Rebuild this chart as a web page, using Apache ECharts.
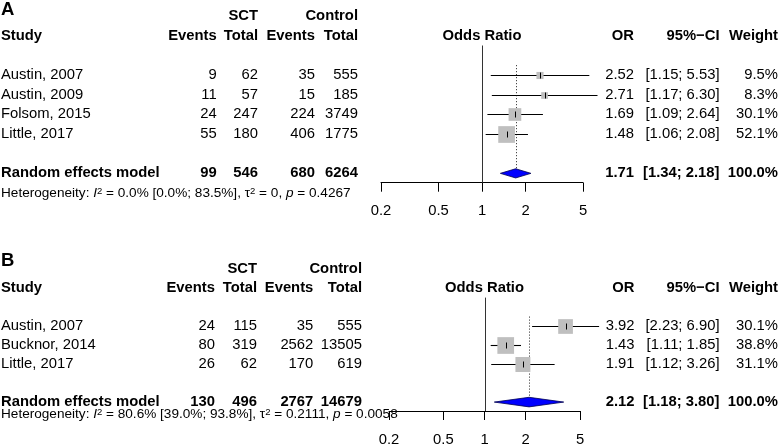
<!DOCTYPE html>
<html><head><meta charset="utf-8">
<script src="https://cdn.jsdelivr.net/npm/echarts@6/dist/echarts.min.js"></script>
<style>html,body{margin:0;padding:0;background:#fff}#c{width:778px;height:447px}</style>
</head><body><div id="c"></div>
<script>
// ---------- Panel A data ----------
const studiesA   = ['Austin, 2007', 'Austin, 2009', 'Folsom, 2015', 'Little, 2017'];
const sctEventsA = [9, 11, 24, 55];
const sctTotalA  = [62, 57, 247, 180];
const ctlEventsA = [35, 15, 224, 406];
const ctlTotalA  = [555, 185, 3749, 1775];
const orA        = [2.52, 2.71, 1.69, 1.48];
const ciLowA     = [1.15, 1.17, 1.09, 1.06];
const ciHighA    = [5.53, 6.30, 2.64, 2.08];
const weightA    = [9.5, 8.3, 30.1, 52.1];
const reTotalsA  = [99, 546, 680, 6264];
const reOrA      = [1.71, 1.34, 2.18];
const hetA       = ['0.0%', '[0.0%; 83.5%]', '0', '0.4267'];

// ---------- Panel B data ----------
const studiesB   = ['Austin, 2007', 'Bucknor, 2014', 'Little, 2017'];
const sctEventsB = [24, 80, 26];
const sctTotalB  = [115, 319, 62];
const ctlEventsB = [35, 2562, 170];
const ctlTotalB  = [555, 13505, 619];
const orB        = [3.92, 1.43, 1.91];
const ciLowB     = [2.23, 1.11, 1.12];
const ciHighB    = [6.90, 1.85, 3.26];
const weightB    = [30.1, 38.8, 31.1];
const reTotalsB  = [130, 496, 2767, 14679];
const reOrB      = [2.12, 1.18, 3.80];
const hetB       = ['80.6%', '[39.0%; 93.8%]', '0.2111', '0.0058'];

const axisTicks  = [0.2, 0.5, 1, 2, 5];

// ---------- layout ----------
const FONT = '"Liberation Sans", Arial, Helvetica, sans-serif';
const FZ = 14.8, HFZ = 13.6;
const LA = {grid:{left:381, top:16, width:202, height:166.7}, ymax:6.475, study:1, sctEv:216.7, sctTot:258, ctlEv:315, ctlTot:358, or:634, ci:719.5, w:778, hetRow:7, dh:4.6};
const LB = {grid:{left:389, top:269.1, width:191, height:144.9}, ymax:5.469, study:1, sctEv:215, sctTot:257, ctlEv:313.3, ctlTot:362, or:634.5, ci:719.5, w:778, hetRow:5.64, dh:4.8};
const MAXSIDE = 16.7;

const f2 = v => v.toFixed(2);
const ciTxt = (l, h) => '[' + f2(l) + '; ' + f2(h) + ']';
const snap = v => Math.round(v) + 0.5;

function buildPanel(gi, D, L) {
  const n = D.studies.length;
  const T = (x, text, align, bold) => ({x, text: String(text), align, bold});
  const rows = [];
  rows.push({r:-2, cells:[T(L.sctTot,'SCT','right',true), T(L.ctlTot,'Control','right',true)]});
  rows.push({r:-1, cells:[T(L.study,'Study','left',true), T(L.sctEv,'Events','right',true), T(L.sctTot,'Total','right',true),
    T(L.ctlEv,'Events','right',true), T(L.ctlTot,'Total','right',true), T('one','Odds Ratio','center',true),
    T(L.or,'OR','right',true), T(L.ci,'95%\u2212CI','right',true), T(L.w,'Weight','right',true)]});
  for (let i = 0; i < n; i++) {
    rows.push({r:i+1, cells:[T(L.study,D.studies[i],'left'), T(L.sctEv,D.sctEv[i],'right'), T(L.sctTot,D.sctTot[i],'right'),
      T(L.ctlEv,D.ctlEv[i],'right'), T(L.ctlTot,D.ctlTot[i],'right'), T(L.or,f2(D.or[i]),'right'),
      T(L.ci,ciTxt(D.lo[i],D.hi[i]),'right'), T(L.w,D.w[i].toFixed(1)+'%','right')]});
  }
  rows.push({r:n+2, cells:[T(L.study,'Random effects model','left',true), T(L.sctEv,D.re[0],'right',true), T(L.sctTot,D.re[1],'right',true),
    T(L.ctlEv,D.re[2],'right',true), T(L.ctlTot,D.re[3],'right',true), T(L.or,f2(D.reOr[0]),'right',true),
    T(L.ci,ciTxt(D.reOr[1],D.reOr[2]),'right',true), T(L.w,'100.0%','right',true)]});
  rows.push({r:L.hetRow, cells:[{x:L.study, align:'left', het:true,
    text:'Heterogeneity: {i|I}{s|2} = ' + D.het[0] + ' ' + D.het[1] + ', \u03c4{s|2} = ' + D.het[2] + ', {i|p} = ' + D.het[3]}]});

  const wmax = Math.max.apply(null, D.w);
  const series = [];
  // reference lines
  series.push({type:'custom', xAxisIndex:gi, yAxisIndex:gi, silent:true, z:1,
    data:[[1, -0.5, 0], [D.reOr[0], 0.5, 1]], encode:{x:0, y:1},
    renderItem:(p, api) => {
      const kind = api.value(2);
      const top = api.coord([api.value(0), api.value(1)]);
      let by;
      if (kind === 0) by = api.coord([1, L.ymax])[1];
      else by = api.coord([1, n+2])[1] - L.dh;
      const x = snap(top[0]);
      return {type:'line', shape:{x1:x, y1:top[1], x2:x, y2:by},
        style:{stroke: kind === 0 ? '#333' : '#222', lineWidth:1, lineDash: kind === 0 ? null : [1,2]}};
    }});
  // study CIs and squares
  series.push({type:'custom', xAxisIndex:gi, yAxisIndex:gi, silent:true, z:3,
    data: D.or.map((v,i) => [v, D.lo[i], D.hi[i], i+1, D.w[i]]), encode:{x:0, y:3},
    renderItem:(p, api) => {
      const r = api.value(3);
      const c = api.coord([api.value(0), r]);
      const lo = api.coord([api.value(1), r]);
      const hi = api.coord([api.value(2), r]);
      const s = MAXSIDE * Math.sqrt(api.value(4) / wmax);
      const y = snap(c[1]);
      return {type:'group', children:[
        {type:'line', shape:{x1:lo[0], y1:y, x2:hi[0], y2:y}, style:{stroke:'#000', lineWidth:1.1}},
        {type:'rect', shape:{x:c[0]-s/2, y:y-s/2, width:s, height:s}, style:{fill:'#bfbfbf'}},
        {type:'line', shape:{x1:snap(c[0]), y1:y-3, x2:snap(c[0]), y2:y+3}, style:{stroke:'#000', lineWidth:1}}
      ]};
    }});
  // diamond
  series.push({type:'custom', xAxisIndex:gi, yAxisIndex:gi, silent:true, z:3,
    data:[[D.reOr[0], D.reOr[1], D.reOr[2], n+2]], encode:{x:0, y:3},
    renderItem:(p, api) => {
      const r = api.value(3);
      const c = api.coord([api.value(0), r]);
      const lo = api.coord([api.value(1), r]);
      const hi = api.coord([api.value(2), r]);
      return {type:'polygon', shape:{points:[[lo[0],c[1]],[c[0],c[1]-L.dh],[hi[0],c[1]],[c[0],c[1]+L.dh]]},
        style:{fill:'#0000ff', stroke:'#000050', lineWidth:0.8}};
    }});
  // table text
  series.push({type:'custom', xAxisIndex:gi, yAxisIndex:gi, silent:true, z:5,
    data: rows.map(rw => [1, rw.r]), encode:{x:0, y:1},
    renderItem:(p, api) => {
      const rw = rows[p.dataIndex];
      const pt = api.coord([1, rw.r]);
      return {type:'group', children: rw.cells.map(c => {
        if (c.het) {
          return {type:'text', x:c.x, y:pt[1], style:{text:c.text, fill:'#000', align:'left', verticalAlign:'middle',
            fontSize:HFZ, fontFamily:FONT,
            rich:{i:{fontStyle:'italic', fontSize:HFZ, fontFamily:FONT, fill:'#000'},
                  s:{fontSize:9.5, fontFamily:FONT, fill:'#000', verticalAlign:'top', lineHeight:9, padding:[0,0,6,0]}}}};
        }
        return {type:'text', x: c.x === 'one' ? pt[0] : c.x, y:pt[1],
          style:{text:c.text, fill:'#000', align:c.align, verticalAlign:'middle', fontSize:FZ,
            fontFamily:FONT, fontWeight: c.bold ? 'bold' : 'normal'}};
      })};
    }});
  return series;
}

const DA = {studies:studiesA, sctEv:sctEventsA, sctTot:sctTotalA, ctlEv:ctlEventsA, ctlTot:ctlTotalA, or:orA, lo:ciLowA, hi:ciHighA, w:weightA, re:reTotalsA, reOr:reOrA, het:hetA};
const DB = {studies:studiesB, sctEv:sctEventsB, sctTot:sctTotalB, ctlEv:ctlEventsB, ctlTot:ctlTotalB, or:orB, lo:ciLowB, hi:ciHighB, w:weightB, re:reTotalsB, reOr:reOrB, het:hetB};

function xAx(gi) {
  return {gridIndex:gi, type:'log', logBase:10, min:0.2, max:5, position:'bottom',
    axisLine:{show:true, onZero:false, lineStyle:{color:'#000', width:1}},
    axisTick:{show:true, length:9, customValues:axisTicks, lineStyle:{color:'#000', width:1}},
    axisLabel:{show:true, customValues:axisTicks, margin:21, color:'#000', fontSize:FZ, fontFamily:FONT,
      formatter: v => String(+(+v).toPrecision(3))},
    splitLine:{show:false}, minorTick:{show:false}};
}
function yAx(gi, L) {
  return {gridIndex:gi, type:'value', inverse:true, min:-2, max:L.ymax, show:false, splitLine:{show:false}};
}

const chart = echarts.init(document.getElementById('c'), null, {renderer:'canvas'});
chart.setOption({
  animation:false,
  backgroundColor:'#fff',
  grid:[Object.assign({containLabel:false}, LA.grid), Object.assign({containLabel:false}, LB.grid)],
  xAxis:[xAx(0), xAx(1)],
  yAxis:[yAx(0, LA), yAx(1, LB)],
  graphic:[
    {type:'text', left:1, top:0, style:{text:'A', fontSize:18.5, fontWeight:'bold', fontFamily:FONT, fill:'#000'}},
    {type:'text', left:1, top:251, style:{text:'B', fontSize:18.5, fontWeight:'bold', fontFamily:FONT, fill:'#000'}}
  ],
  series: buildPanel(0, DA, LA).concat(buildPanel(1, DB, LB))
});
</script></body></html>
